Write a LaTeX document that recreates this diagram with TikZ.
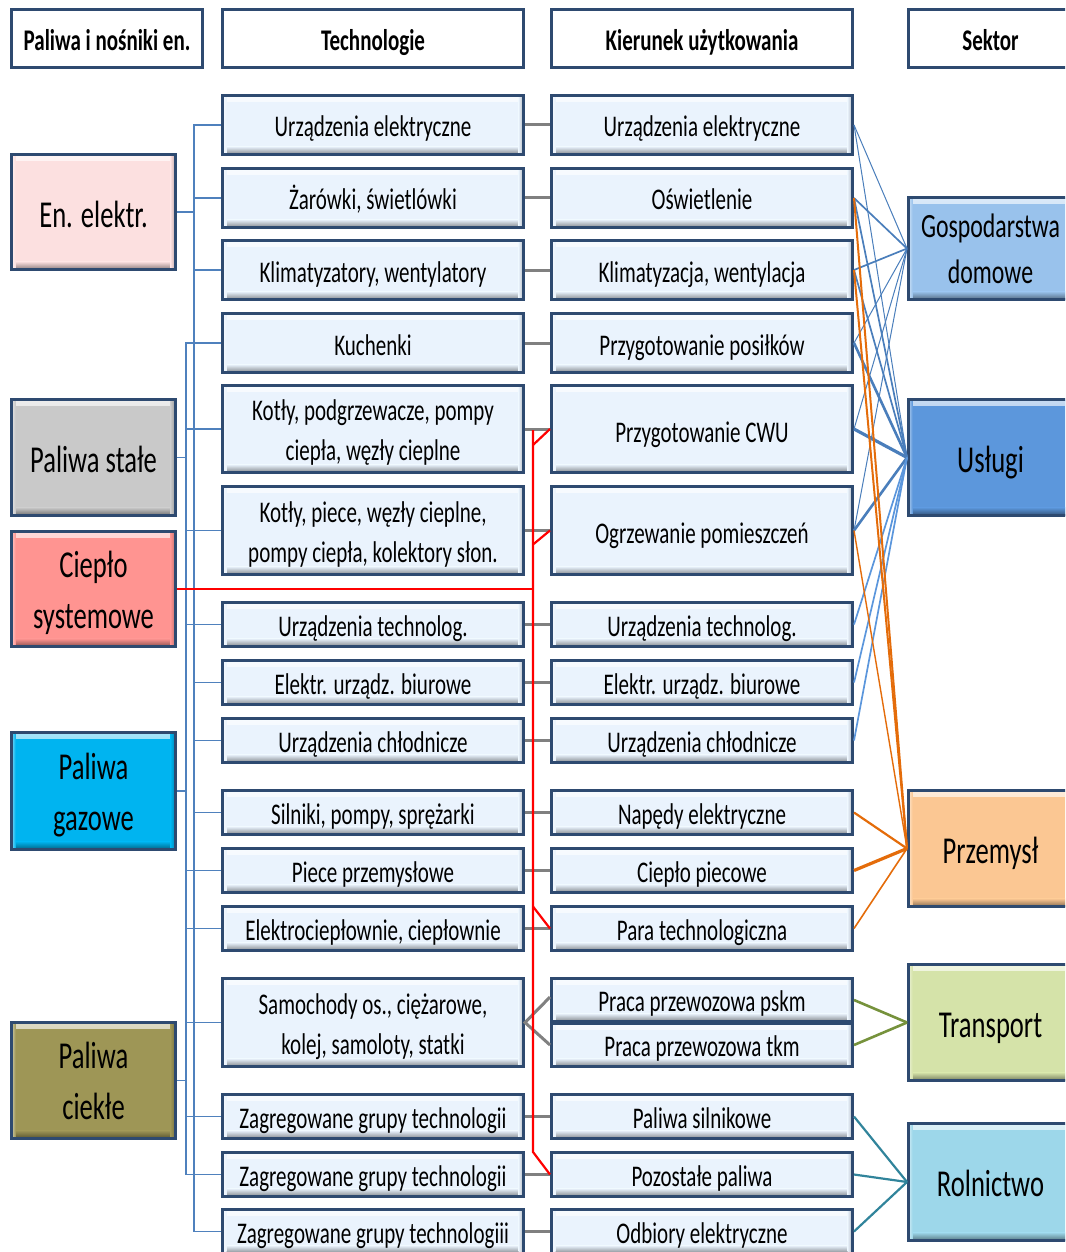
\documentclass[tikz,border=0pt]{standalone}
\usepackage{fontspec}
\setmainfont{Carlito}[FakeStretch=0.7]
\usetikzlibrary{calc}

\definecolor{edge}{HTML}{2E4A70}
\definecolor{techfill}{HTML}{EAF3FD}
\definecolor{enel}{HTML}{FCE0E0}
\definecolor{solid}{HTML}{C9C9C9}
\definecolor{districtheat}{HTML}{FF9491}
\definecolor{gasfuel}{HTML}{00B4F0}
\definecolor{liquidfuel}{HTML}{9E9656}
\definecolor{households}{HTML}{99C2EC}
\definecolor{services}{HTML}{5C97DC}
\definecolor{industry}{HTML}{FBC793}
\definecolor{transportc}{HTML}{D5E3A9}
\definecolor{agriculture}{HTML}{9DD7EA}
\definecolor{feedblue}{HTML}{4F81BD}
\definecolor{fanblue}{HTML}{4A7EBB}
\definecolor{fanblueb}{HTML}{5B96DC}
\definecolor{fanorange}{HTML}{E46C0A}
\definecolor{fanolive}{HTML}{76923C}
\definecolor{fanteal}{HTML}{31849B}
\definecolor{linkgray}{HTML}{808080}

% label text whose first baseline sits #1 below the box centre
\newcommand\celltext[2][12pt]{\raisebox{-#1}[0pt][0pt]{\begin{tabular}[t]{@{}c@{}}#2\end{tabular}}}

\tikzset{
  box/.style={draw=edge, line width=3pt, inner sep=0pt, text=black},
  bevel/.style={fill=#1, path picture={
      \shade[top color=#1!35!white, bottom color=#1]
        (path picture bounding box.north west) rectangle ([yshift=-6pt]path picture bounding box.north east);
      \shade[top color=#1, bottom color=#1!55!black]
        ([yshift=8pt]path picture bounding box.south west) rectangle (path picture bounding box.south east);
      \shade[left color=#1, right color=#1!75!black]
        ([xshift=-5pt]path picture bounding box.north east) rectangle (path picture bounding box.south east);
      \shade[left color=#1!50!white, right color=#1]
        (path picture bounding box.north west) rectangle ([xshift=4pt]path picture bounding box.south west);
    }},
  header/.style={box, fill=white, minimum height=58pt, font=\fontsize{30}{36}\bfseries\selectfont},
  fuel/.style={box, bevel=#1, minimum width=164pt, font=\fontsize{38}{51}\selectfont},
  sector/.style={box, bevel=#1, minimum width=164pt, font=\fontsize{38}{51}\selectfont},
  tech/.style={box, bevel=techfill, minimum width=301pt, font=\fontsize{30}{40}\selectfont},
  feed/.style={draw=feedblue, line width=1.3pt},
  link/.style={draw=linkgray, line width=3pt},
  heat/.style={draw=red, line width=2.2pt, line join=miter},
  fan/.style={draw=#1},
}

\begin{document}
\begin{tikzpicture}[x=1pt, y=-1pt]
\path[use as bounding box, clip] (0,0) rectangle (1065,1252);

% column headers
\node[header, minimum width=191pt] (h1) at (107,38.5) {\celltext{Paliwa i nośniki en.}};
\node[header, minimum width=301pt] (h2) at (373,38.5) {\celltext{Technologie}};
\node[header, minimum width=301pt] (h3) at (702,38.5) {\celltext{Kierunek użytkowania}};
\node[header, minimum width=164pt] (h4) at (990.5,38.5) {\celltext{Sektor}};

% fuels and energy carriers
\node[fuel=enel, minimum height=115pt] (fe) at (93.5,212) {\celltext[15pt]{En. elektr.}};
\node[fuel=solid, minimum height=116pt] (fs) at (93.5,457.5) {\celltext[15pt]{Paliwa stałe}};
\node[fuel=districtheat, minimum height=115pt] (fc) at (93.5,589) {\celltext[-12pt]{Ciepło\\systemowe}};
\node[fuel=gasfuel, minimum height=117pt] (fg) at (93.5,791) {\celltext[-12pt]{Paliwa\\gazowe}};
\node[fuel=liquidfuel, minimum height=116pt] (fl) at (93.5,1080.5) {\celltext[-12pt]{Paliwa\\ciekłe}};

% technologies
\node[tech, minimum height=59pt] (t1) at (373,125) {\celltext{Urządzenia elektryczne}};
\node[tech, minimum height=59pt] (t2) at (373,198) {\celltext{Żarówki, świetlówki}};
\node[tech, minimum height=59pt] (t3) at (373,270) {\celltext{Klimatyzatory, wentylatory}};
\node[tech, minimum height=59pt] (t4) at (373,343) {\celltext{Kuchenki}};
\node[tech, minimum height=87pt] (t5) at (373,429) {\celltext[-8.5pt]{Kotły, podgrzewacze, pompy\\ciepła, węzły cieplne}};
\node[tech, minimum height=88pt] (t6) at (373,530.5) {\celltext[-8.5pt]{Kotły, piece, węzły cieplne,\\pompy ciepła, kolektory słon.}};
\node[tech, minimum height=44pt] (t7) at (373,624.5) {\celltext{Urządzenia technolog.}};
\node[tech, minimum height=44pt] (t8) at (373,682.5) {\celltext{Elektr. urządz. biurowe}};
\node[tech, minimum height=44pt] (t9) at (373,740.5) {\celltext{Urządzenia chłodnicze}};
\node[tech, minimum height=44pt] (t10) at (373,812.5) {\celltext{Silniki, pompy, sprężarki}};
\node[tech, minimum height=44pt] (t11) at (373,870.5) {\celltext{Piece przemysłowe}};
\node[tech, minimum height=44pt] (t12) at (373,928.5) {\celltext{Elektrociepłownie, ciepłownie}};
\node[tech, minimum height=88pt] (t13) at (373,1022.5) {\celltext[-8.5pt]{Samochody os., ciężarowe,\\kolej, samoloty, statki}};
\node[tech, minimum height=44pt] (t14) at (373,1116.5) {\celltext{Zagregowane grupy technologii}};
\node[tech, minimum height=44pt] (t15) at (373,1174.5) {\celltext{Zagregowane grupy technologii}};
\node[tech, minimum height=44pt] (t16) at (373,1231.5) {\celltext{Zagregowane grupy technologiii}};

% end uses
\node[tech, minimum height=59pt] (d1) at (702,125) {\celltext{Urządzenia elektryczne}};
\node[tech, minimum height=59pt] (d2) at (702,198) {\celltext{Oświetlenie}};
\node[tech, minimum height=59pt] (d3) at (702,270) {\celltext{Klimatyzacja, wentylacja}};
\node[tech, minimum height=59pt] (d4) at (702,343) {\celltext{Przygotowanie posiłków}};
\node[tech, minimum height=87pt] (d5) at (702,429) {\celltext[13pt]{Przygotowanie CWU}};
\node[tech, minimum height=88pt] (d6) at (702,530.5) {\celltext[13pt]{Ogrzewanie pomieszczeń}};
\node[tech, minimum height=44pt] (d7) at (702,624.5) {\celltext{Urządzenia technolog.}};
\node[tech, minimum height=44pt] (d8) at (702,682.5) {\celltext{Elektr. urządz. biurowe}};
\node[tech, minimum height=44pt] (d9) at (702,740.5) {\celltext{Urządzenia chłodnicze}};
\node[tech, minimum height=44pt] (d10) at (702,812.5) {\celltext{Napędy elektryczne}};
\node[tech, minimum height=44pt] (d11) at (702,870.5) {\celltext{Ciepło piecowe}};
\node[tech, minimum height=44pt] (d12) at (702,928.5) {\celltext{Para technologiczna}};
\node[tech, minimum height=43pt] (d13a) at (702,1000) {\celltext[11.5pt]{Praca przewozowa pskm}};
\node[tech, minimum height=43pt] (d13b) at (702,1045) {\celltext[11pt]{Praca przewozowa tkm}};
\node[tech, minimum height=44pt] (d14) at (702,1116.5) {\celltext{Paliwa silnikowe}};
\node[tech, minimum height=44pt] (d15) at (702,1174.5) {\celltext{Pozostałe paliwa}};
\node[tech, minimum height=44pt] (d16) at (702,1231.5) {\celltext{Odbiory elektryczne}};

% sectors
\node[sector=households, minimum height=102pt, font=\fontsize{34}{46}\selectfont] (sg) at (990.5,248.5) {\celltext[-11.5pt]{Gospodarstwa\\domowe}};
\node[sector=services, minimum height=116pt] (su) at (990.5,457.5) {\celltext[14.5pt]{Usługi}};
\node[sector=industry, minimum height=116pt] (sp) at (990.5,848.5) {\celltext[14.5pt]{Przemysł}};
\node[sector=transportc, minimum height=116pt] (st) at (990.5,1022.5) {\celltext[14.5pt]{Transport}};
\node[sector=agriculture, minimum height=117pt] (sr) at (990.5,1182) {\celltext[14.5pt]{Rolnictwo}};

% feeder trunks between fuels and technologies
\coordinate (trA) at (194,0);
\coordinate (trB) at (186,0);
\coordinate (trR) at (533,0);

\draw[feed] (t1.west) -- (t1.west -| trA) -- (t16.west -| trA) -- (t16.west);
\draw[feed] (t4.west) -- (t4.west -| trB) -- (t15.west -| trB) -- (t15.west);
\draw[feed] (fe.east) -- (fe.east -| trA);
\foreach \n in {t2,t3,t8,t9,t10}
  \draw[feed] (\n.west) -- (\n.west -| trA);
\draw[feed] (fs.east) -- (fs.east -| trB);
\draw[feed] (fg.east) -- (fg.east -| trB);
\draw[feed] (fl.east) -- (fl.east -| trB);
\foreach \n in {t5,t6,t7,t11,t12,t13,t14}
  \draw[feed] (\n.west) -- (\n.west -| trB);

% technology to end use
\foreach \i in {1,...,12,14,15,16}
  \draw[link] (t\i.east) -- (d\i.west);
\draw[link] ([yshift=3pt]d13a.west) -- (t13.east) -- (d13b.west);

% district heat line
\coordinate (rTop) at (533,430);
\coordinate (rBot) at (533,1152);
\draw[heat] (fc.east) -- (fc.east -| trR);
\draw[heat] (rTop) -- (rBot) -- (d15.west);
\draw[heat] (d5.west) -- ++(-17,16);
\draw[heat] (d6.west) -- ++(-17,14);
\draw[heat] (d12.west) -- ++(-17,-22);

% end use to sector
\foreach \n/\w in {d1/1.0, d2/1.7, d3/1.7, d4/1.0, d5/1.0, d6/1.0}
  \draw[fan=fanblue, line width=\w pt] (\n.east) -- (sg.west);
\foreach \n/\w in {d1/1.0, d2/1.7, d3/1.7, d4/2.6, d5/3.2, d6/2.6}
  \draw[fan=fanblue, line width=\w pt] (\n.east) -- (su.west);
\foreach \n in {d7,d8,d9}
  \draw[fan=fanblueb, line width=1.7pt] (\n.east) -- (su.west);
\foreach \n/\w in {d2/2.0, d3/2.0, d6/1.4, d10/2.2, d11/3.2, d12/1.6}
  \draw[fan=fanorange, line width=\w pt] (\n.east) -- (sp.west);
\foreach \n in {d13a,d13b}
  \draw[fan=fanolive, line width=2.6pt] (\n.east) -- (st.west);
\foreach \n in {d14,d15,d16}
  \draw[fan=fanteal, line width=2.2pt] (\n.east) -- (sr.west);
\end{tikzpicture}
\end{document}
